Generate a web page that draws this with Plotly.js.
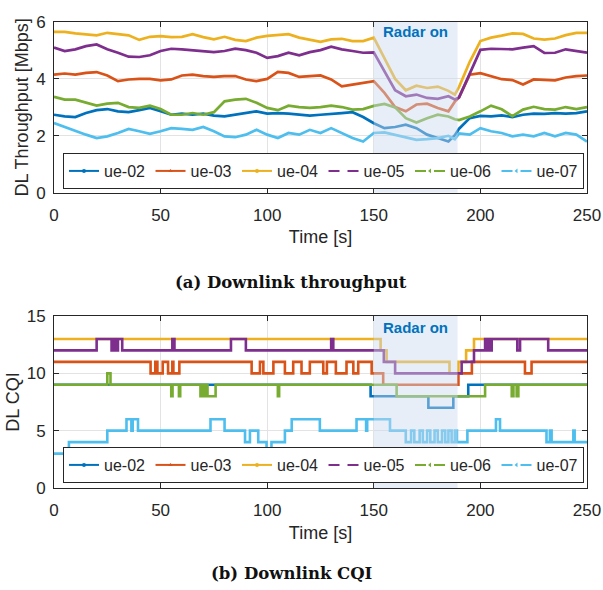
<!DOCTYPE html>
<html>
<head>
<meta charset="utf-8">
<script src="https://cdn.plot.ly/plotly-3.0.1.min.js"></script>
<style>html,body{margin:0;padding:0;background:#fff;}#chart{width:603px;height:590px;}</style>
</head>
<body>
<div id="chart"></div>
<script>
// ---------- data ----------
const ueNames = ["ue-02", "ue-03", "ue-04", "ue-05", "ue-06", "ue-07"];
const ueColors = ["#0072BD", "#D95319", "#EDB120", "#7E2F8E", "#77AC30", "#4DBEEE"];
const radarStart = 150;
const radarEnd = 189.3;

// Downlink throughput [Mbps]
const tputTime = [0,5,10,15,20,25,30,35,40,45,50,55,60,65,70,75,80,85,90,95,100,105,110,115,120,125,130,135,140,145,150,155,160,165,170,175,180,185,188,190,195,200,205,210,215,220,225,230,235,240,245,250];
const tput02 = [2.74,2.68,2.66,2.80,2.90,2.94,2.86,2.83,2.90,2.98,2.86,2.74,2.78,2.74,2.78,2.71,2.68,2.74,2.80,2.86,2.78,2.80,2.78,2.74,2.71,2.74,2.78,2.80,2.83,2.66,2.44,2.27,2.31,2.39,2.27,2.04,1.92,1.80,2.02,2.25,2.62,2.70,2.68,2.72,2.66,2.74,2.78,2.77,2.80,2.78,2.80,2.86];
const tput03 = [4.15,4.19,4.15,4.21,4.24,4.12,3.92,3.98,4.00,4.00,3.95,3.98,4.12,4.15,4.10,4.07,4.10,4.10,3.98,3.92,4.00,4.25,4.21,4.07,4.10,4.12,3.98,3.74,3.80,3.86,3.92,3.51,3.01,2.86,3.10,3.13,2.98,2.86,3.20,3.36,4.15,4.20,4.10,3.99,3.96,3.80,3.98,3.96,3.95,4.05,4.10,4.12];
const tput04 = [5.65,5.65,5.60,5.57,5.53,5.62,5.57,5.53,5.37,5.48,5.50,5.47,5.48,5.57,5.47,5.39,5.48,5.37,5.33,5.45,5.51,5.53,5.57,5.45,5.37,5.30,5.39,5.41,5.33,5.33,5.45,4.75,4.00,3.60,3.76,3.68,3.73,3.58,3.45,3.72,4.60,5.33,5.45,5.52,5.60,5.58,5.42,5.38,5.42,5.54,5.62,5.62];
const tput05 = [5.10,4.98,5.04,5.15,5.21,5.04,4.92,4.78,4.77,4.83,4.98,5.06,5.04,5.01,4.98,4.94,4.98,5.06,5.01,4.92,4.74,4.80,4.92,4.83,4.94,5.01,5.13,5.04,4.98,4.92,4.93,4.24,3.60,3.39,3.45,3.33,3.30,3.39,3.28,3.35,4.21,5.02,5.06,5.06,5.04,5.10,5.15,4.91,4.92,5.04,4.98,4.92];
const tput06 = [3.37,3.27,3.27,3.16,3.06,3.13,3.16,3.01,2.98,3.06,2.94,2.74,2.74,2.80,2.74,2.83,3.21,3.27,3.30,3.16,2.98,2.90,3.06,3.01,2.98,3.01,3.06,3.01,2.92,2.94,3.05,3.12,3.00,2.62,2.47,2.62,2.74,2.68,2.58,2.55,2.68,2.86,3.06,2.93,2.69,2.92,3.02,2.94,2.92,3.01,2.94,3.01];
const tput07 = [2.45,2.31,2.16,2.04,1.92,1.98,2.10,2.24,2.16,2.07,2.16,2.27,2.24,2.21,2.31,2.16,1.98,1.95,2.04,2.21,2.04,1.92,2.10,2.04,2.21,2.10,2.27,2.10,1.92,1.80,2.10,2.12,2.04,1.95,1.86,1.88,1.92,2.00,1.88,2.08,2.04,2.27,2.16,2.10,1.98,2.04,1.98,2.10,1.98,2.10,2.04,1.80];

// Downlink CQI (step changes: time of change, new value)
const cqiT02 = [0,148.5,175.6,187.3,194.3,250];
const cqiV02 = [9,8,7,8,9,9];
const cqiT03 = [0,45.3,47.5,48.5,51,53.5,55.5,56,58.8,92.7,96.6,98.2,102.9,108.3,112.2,116.1,120,126.3,128,132.2,137.2,140.4,142.7,149,154.4,189.7,196,220.9,224,250];
const cqiV03 = [11,10,11,10,11,10,11,10,11,10,11,10,11,10,11,10,11,10,11,10,11,10,11,10,9,10,11,10,11,11];
const cqiT04 = [0,153.2,156,185.5,189.7,193.3,197,250];
const cqiV04 = [13,12,11,10,11,12,13,13];
const cqiT05 = [0,20,27,27.8,29,30,32,55.5,56.5,83,90,130,131,154.7,160,191.2,197,202.2,203,203.8,204.6,205.3,217.3,218.6,231.8,250];
const cqiV05 = [12,13,12,13,12,13,12,13,12,13,12,13,12,11,10,11,12,13,12,13,12,13,12,13,12,12];
const cqiT06 = [0,25,26.5,55,55.6,58.6,59.2,68.7,69.5,70.5,71.3,72,75.8,105,105.6,160.7,202.2,214.7,215.5,217,217.8,250];
const cqiV06 = [9,10,9,8,9,8,9,8,9,8,9,8,9,8,9,8,9,8,9,8,9,9];
const cqiT07 = [0,7,25,34,36.3,36.9,39.4,73.4,80,89.6,91.9,95.8,99.7,102,108.3,111.5,124.7,141.9,146.4,146.9,157.6,165,167.5,169,171.5,173,175,176.5,178.5,180,182,183.5,185,186.5,188,189,193.9,207.3,209.2,231,232.6,233.4,243.6,244.2,250];
const cqiV07 = [3,4,5,6,5,6,5,6,5,4,5,4,3,4,5,6,5,6,5,6,5,4,5,4,5,4,5,4,5,4,5,4,5,4,5,4,5,6,5,4,5,4,5,4,4];

const xTicks = [0, 50, 100, 150, 200, 250];
const tputTicks = [0, 2, 4, 6];
const cqiTicks = [0, 5, 10, 15];

// ---------- styles ----------
const legendDash = ["solid", "solid", "solid", "11px,8px", "11px,8px", "11px,8px"];
const legendSymbol = ["circle", "triangle-up", "circle", null, "triangle-left", "triangle-left"];
const FONT = "Liberation Sans, Arial, sans-serif";
const TXT = "#262626";

const tputSeries = [tput02, tput03, tput04, tput05, tput06, tput07];
const cqiTs = [cqiT02, cqiT03, cqiT04, cqiT05, cqiT06, cqiT07];
const cqiVs = [cqiV02, cqiV03, cqiV04, cqiV05, cqiV06, cqiV07];

const traces = [];
ueNames.forEach((n, i) => {
  traces.push({x: tputTime, y: tputSeries[i], type: "scatter", mode: "lines", xaxis: "x", yaxis: "y",
    line: {color: ueColors[i], width: 2.7}, showlegend: false, hoverinfo: "skip"});
});
ueNames.forEach((n, i) => {
  traces.push({x: cqiTs[i], y: cqiVs[i], type: "scatter", mode: "lines", xaxis: "x2", yaxis: "y2",
    line: {color: ueColors[i], width: 2.6, shape: "hv"}, showlegend: false, hoverinfo: "skip"});
});
// legend entries
["legend", "legend2"].forEach((lg, k) => {
  ueNames.forEach((n, i) => {
    const t = {x: [null], y: [null], type: "scatter", name: n, legend: lg,
      xaxis: k ? "x2" : "x", yaxis: k ? "y2" : "y",
      mode: legendSymbol[i] ? "lines+markers" : "lines",
      line: {color: ueColors[i], width: 2, dash: legendDash[i]}, showlegend: true};
    if (legendSymbol[i]) t.marker = {symbol: legendSymbol[i], size: 4, color: ueColors[i]};
    traces.push(t);
  });
});

function xAxis(anchor) {
  return {anchor: anchor, range: [0, 250], tickvals: xTicks, ticks: "inside", ticklen: 5, tickcolor: TXT,
    showline: true, mirror: "ticks", linecolor: TXT, linewidth: 1, showgrid: true, gridcolor: "#E3E3E3",
    zeroline: false, tickfont: {family: FONT, size: 17, color: TXT}, ticklabelstandoff: 7,
    title: {text: "Time [s]", font: {family: FONT, size: 18, color: TXT}, standoff: 6}};
}
function yAxis(anchor, domain, range, ticks, title) {
  return {anchor: anchor, domain: domain, range: range, tickvals: ticks, ticks: "inside", ticklen: 5, tickcolor: TXT,
    showline: true, mirror: "ticks", linecolor: TXT, linewidth: 1, showgrid: true, gridcolor: "#E3E3E3",
    zeroline: false, tickfont: {family: FONT, size: 17, color: TXT}, ticklabelstandoff: 4,
    title: {text: title, font: {family: FONT, size: 18, color: TXT}, standoff: 2}};
}

const legendBase = {orientation: "h", xanchor: "left", yanchor: "bottom", x: 0.0169,
  bgcolor: "#FFFFFF", bordercolor: TXT, borderwidth: 1, entrywidth: 41.5, entrywidthmode: "pixels",
  font: {family: FONT, size: 16, color: TXT}, itemclick: false, itemdoubleclick: false};

const shade = {type: "rect", layer: "above", fillcolor: "rgb(205,218,238)", opacity: 0.45, line: {width: 0}};

const layout = {
  width: 603, height: 590,
  margin: {l: 54, r: 16, t: 22, b: 102},
  paper_bgcolor: "#FFFFFF", plot_bgcolor: "#FFFFFF",
  font: {family: FONT, color: TXT},
  xaxis: xAxis("y"),
  yaxis: yAxis("x", [0.6337, 1], [0, 6], tputTicks, "DL Throughput [Mbps]"),
  xaxis2: xAxis("y2"),
  yaxis2: yAxis("x2", [0, 0.3691], [0, 15], cqiTicks, "DL CQI"),
  legend: Object.assign({}, legendBase, {y: 0.6416}),
  legend2: Object.assign({}, legendBase, {y: 0.0107}),
  shapes: [
    Object.assign({}, shade, {xref: "x", yref: "y domain", x0: radarStart, x1: radarEnd, y0: 0, y1: 1}),
    Object.assign({}, shade, {xref: "x2", yref: "y2 domain", x0: radarStart, x1: radarEnd, y0: 0, y1: 1})
  ],
  annotations: [
    {text: "<b>Radar on</b>", xref: "x", yref: "y domain", x: (radarStart + radarEnd) / 2, y: 0.945,
      yanchor: "middle", xanchor: "center",
      showarrow: false, font: {family: FONT, size: 15, color: "#0072BD"}},
    {text: "<b>Radar on</b>", xref: "x2", yref: "y2 domain", x: (radarStart + radarEnd) / 2, y: 0.935,
      yanchor: "middle", xanchor: "center",
      showarrow: false, font: {family: FONT, size: 15, color: "#0072BD"}},
    {text: "<b>(a) Downlink throughput</b>", xref: "paper", yref: "paper", x: 0.445, y: 0.442,
      yanchor: "middle", xanchor: "center",
      showarrow: false, font: {family: "DejaVu Serif, serif", size: 16.5, color: "#111"}},
    {text: "<b>(b) Downlink CQI</b>", xref: "paper", yref: "paper", x: 0.445, y: -0.1845,
      yanchor: "middle", xanchor: "center",
      showarrow: false, font: {family: "DejaVu Serif, serif", size: 16.5, color: "#111"}}
  ]
};

Plotly.newPlot("chart", traces, layout, {staticPlot: true, displayModeBar: false});
</script>
</body>
</html>
